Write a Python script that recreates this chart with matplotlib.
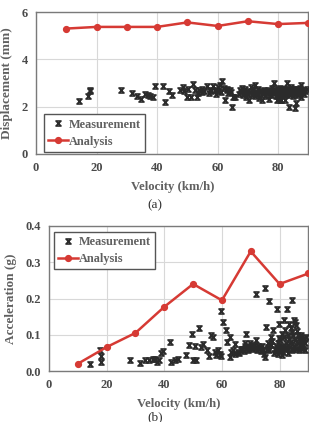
import matplotlib
matplotlib.use("Agg")
import matplotlib.pyplot as plt
from matplotlib.path import Path

plt.rcParams['font.family'] = ['Liberation Serif', 'DejaVu Serif']
plt.rcParams['font.weight'] = 'bold'

# ---------------- data ----------------
speeds = [10, 20, 30, 40, 50, 60, 70, 80, 90]
disp_analysis = [5.30, 5.37, 5.37, 5.37, 5.56, 5.41, 5.61, 5.49, 5.54]
acc_analysis = [0.020, 0.066, 0.105, 0.177, 0.240, 0.195, 0.330, 0.240, 0.269]

disp_meas = [
    (14.2, 2.24), (17.2, 2.46), (17.8, 2.72), (17.8, 2.65), (28.2, 2.69), (31.6, 2.58),
    (33.3, 2.46), (34.6, 2.32), (36.0, 2.55), (36.9, 2.50), (37.8, 2.44), (38.6, 2.41),
    (39.3, 2.86), (42.1, 2.89), (42.7, 2.20), (44.1, 2.65), (44.8, 2.50), (47.6, 2.72),
    (48.5, 2.83), (49.8, 2.41), (50.3, 2.75), (51.1, 2.41), (52.0, 2.97), (52.5, 2.69),
    (53.1, 2.41), (53.9, 2.72), (54.8, 2.75), (55.5, 2.65), (56.4, 2.86), (57.0, 2.58),
    (57.6, 2.72), (58.6, 2.86), (59.5, 2.55), (60.3, 2.83), (60.8, 2.93), (61.6, 3.07),
    (62.2, 2.79), (62.5, 2.27), (63.0, 2.72), (63.6, 2.58), (64.1, 2.69), (64.7, 1.99),
    (65.0, 2.41), (65.8, 2.41), (48.8, 2.68), (55.0, 2.62), (59.0, 2.70), (61.0, 2.60),
    (63.2, 2.75), (64.5, 2.62), (57.8, 2.66), (53.5, 2.58), (60.0, 2.66),
    (67.2, 2.55), (67.5, 2.72), (67.8, 2.62), (68.0, 2.80), (68.3, 2.48), (68.6, 2.66),
    (68.9, 2.58), (69.2, 2.75), (69.5, 2.40), (69.8, 2.68), (70.1, 2.55), (70.4, 2.27),
    (70.7, 2.62), (71.0, 2.85), (71.3, 2.50), (71.6, 2.70), (71.9, 2.58), (72.2, 2.44),
    (72.5, 2.93), (72.8, 2.64), (73.1, 2.52), (73.4, 2.76), (73.7, 2.35), (74.0, 2.60),
    (74.3, 2.68), (74.6, 2.30), (74.9, 2.55), (75.2, 2.72), (75.5, 2.62), (75.8, 2.45),
    (76.1, 2.66), (76.4, 2.58), (76.7, 2.70), (77.0, 2.34), (77.3, 2.60), (77.6, 2.50),
    (77.9, 2.78), (78.2, 2.64), (78.5, 3.02), (78.8, 2.56), (79.0, 2.70), (79.2, 2.45),
    (79.4, 2.62), (79.6, 2.30), (79.8, 2.74), (80.0, 2.58), (80.2, 2.66), (80.4, 2.50),
    (80.6, 2.80), (80.8, 2.62), (81.0, 2.30), (81.2, 2.70), (81.4, 2.56), (81.6, 2.64),
    (81.8, 2.48), (82.0, 2.76), (82.2, 2.60), (82.4, 2.68), (82.6, 2.52), (82.8, 2.98),
    (83.0, 2.66), (83.2, 2.58), (83.4, 2.72), (83.6, 1.99), (83.8, 2.62), (84.0, 2.50),
    (84.2, 2.84), (84.4, 2.66), (84.6, 2.56), (84.8, 2.70), (85.0, 2.44), (85.2, 2.62),
    (85.4, 2.76), (85.5, 1.94), (85.6, 2.52), (85.8, 2.68), (86.0, 2.15), (86.2, 2.60),
    (86.4, 2.72), (86.6, 2.48), (86.8, 2.64), (87.0, 2.56), (87.2, 2.80), (87.4, 2.40),
    (87.7, 2.93), (88.0, 2.62), (88.3, 2.70), (88.6, 2.55), (89.0, 2.66), (89.4, 2.74),
    (79.1, 2.66), (80.1, 2.72), (80.9, 2.55), (81.5, 2.74), (82.1, 2.62), (82.7, 2.70),
    (83.3, 2.64), (83.9, 2.74), (84.3, 2.58), (84.9, 2.62), (85.3, 2.70), (85.9, 2.58),
    (86.5, 2.66), (87.1, 2.72), (81.1, 2.64), (82.5, 2.56), (84.1, 2.68), (85.7, 2.76),
    (86.9, 2.58), (83.5, 2.56), (80.5, 2.28), (82.3, 2.30),
]

acc_meas = [
    (14.1, 0.018), (17.8, 0.057), (17.9, 0.041), (17.9, 0.025), (28.2, 0.029), (31.7, 0.023),
    (33.4, 0.029), (34.6, 0.029), (36.1, 0.032), (36.8, 0.032), (37.6, 0.025), (38.3, 0.029),
    (39.0, 0.051), (39.5, 0.054), (42.1, 0.080), (42.5, 0.025), (43.6, 0.029), (44.7, 0.032),
    (47.6, 0.045), (48.6, 0.071), (49.7, 0.103), (49.9, 0.029), (50.5, 0.068), (51.1, 0.031),
    (51.9, 0.120), (52.8, 0.065), (53.6, 0.074), (54.8, 0.057), (55.5, 0.041), (56.3, 0.099),
    (56.9, 0.094), (57.5, 0.053), (58.0, 0.043), (58.6, 0.057), (59.2, 0.048), (59.8, 0.041),
    (59.8, 0.166), (60.3, 0.135), (61.3, 0.112), (61.7, 0.080), (62.7, 0.094), (62.7, 0.039),
    (63.2, 0.053), (63.8, 0.057), (64.4, 0.074), (64.7, 0.048), (65.5, 0.053), (66.7, 0.062),
    (67.9, 0.076), (68.4, 0.101), (69.0, 0.066), (69.6, 0.076), (70.8, 0.066), (71.7, 0.085),
    (71.9, 0.212), (73.1, 0.066), (74.2, 0.057), (75.0, 0.228), (75.4, 0.122), (76.0, 0.076),
    (76.5, 0.192), (77.1, 0.094), (77.7, 0.112), (79.2, 0.171), (79.8, 0.129), (80.3, 0.066),
    (80.9, 0.103), (81.7, 0.140), (82.5, 0.171), (83.2, 0.131), (84.4, 0.197), (84.9, 0.140),
    (85.5, 0.135), (86.4, 0.099), (87.5, 0.094), (88.1, 0.085), (89.0, 0.057),
    (66.0, 0.050), (66.5, 0.058), (67.0, 0.062), (67.5, 0.055), (68.0, 0.068), (68.5, 0.060),
    (69.0, 0.058), (69.5, 0.064), (70.0, 0.070), (70.5, 0.060), (71.0, 0.072), (71.5, 0.064),
    (72.0, 0.058), (72.5, 0.068), (73.0, 0.062), (73.5, 0.055), (74.0, 0.070), (74.5, 0.048),
    (75.0, 0.040), (75.5, 0.062), (76.0, 0.066), (76.5, 0.058), (77.0, 0.072), (77.5, 0.082),
    (78.0, 0.050), (78.3, 0.060), (78.6, 0.068), (79.0, 0.055), (79.3, 0.076), (79.6, 0.048),
    (80.0, 0.062), (80.3, 0.085), (80.6, 0.058), (81.0, 0.070), (81.3, 0.052), (81.6, 0.094),
    (82.0, 0.064), (82.3, 0.078), (82.6, 0.060), (83.0, 0.072), (83.3, 0.088), (83.6, 0.066),
    (84.0, 0.080), (84.3, 0.058), (84.6, 0.100), (85.0, 0.070), (85.3, 0.085), (85.6, 0.062),
    (86.0, 0.110), (86.3, 0.076), (86.6, 0.092), (87.0, 0.068), (87.3, 0.082), (87.6, 0.100),
    (88.0, 0.072), (88.4, 0.090), (88.8, 0.078), (89.2, 0.095), (81.8, 0.112), (83.8, 0.120),
    (85.8, 0.128), (84.8, 0.062), (82.8, 0.050), (80.8, 0.045), (86.8, 0.058), (87.8, 0.062),
    (79.8, 0.090), (83.1, 0.098), (84.2, 0.108),
]

x_ticks = [0, 20, 40, 60, 80]
disp_ticks = [0, 2, 4, 6]
acc_ticks = [0.0, 0.1, 0.2, 0.3, 0.4]
acc_tick_labels = ["0.0", "0.1", "0.2", "0.3", "0.4"]

# ---------------- style ----------------
RED = "#d63a34"
MK = "#2b2b2b"
TXT = "#606060"
TICK = "#4a4a4a"
hourglass = Path([(-1, 1), (1, 1), (-1, -1), (1, -1), (-1, 1)],
                 [Path.MOVETO, Path.LINETO, Path.LINETO, Path.LINETO, Path.CLOSEPOLY])

fig = plt.figure(figsize=(3.09, 4.22), dpi=100)
ax1 = fig.add_axes([36 / 309, 1 - 154 / 422, 1 - 36 / 309 - 0.002, 142 / 422])
ax2 = fig.add_axes([49 / 309, 1 - 371 / 422, 1 - 49 / 309 - 0.002, 145 / 422])


def style(ax):
    ax.grid(True, color="#d8d8d8", linewidth=0.8)
    ax.set_axisbelow(True)
    for s in ax.spines.values():
        s.set_color("#7a7a7a")
        s.set_linewidth(1.0)
    ax.tick_params(length=0, labelsize=9, labelcolor=TICK, pad=6)
    for lab in ax.get_xticklabels() + ax.get_yticklabels():
        lab.set_fontweight("bold")


def draw(ax, meas, analysis, legend_loc, anchor):
    mx = [p[0] for p in meas]
    my = [p[1] for p in meas]
    ax.plot(mx, my, linestyle="none", marker=hourglass, markersize=3.6,
            markerfacecolor="none", markeredgecolor=MK, markeredgewidth=1.2,
            label="Measurement", zorder=3)
    ax.plot(speeds, analysis, color=RED, linewidth=1.8, marker="o", markersize=4.2,
            markerfacecolor=RED, markeredgecolor=RED, label="Analysis", zorder=4)
    leg = ax.legend(loc=legend_loc, bbox_to_anchor=anchor, fancybox=False,
                    edgecolor="#555555", framealpha=1, fontsize=8.8,
                    handlelength=1.6, handletextpad=0.05, borderpad=0.35,
                    labelspacing=0.4, borderaxespad=0)
    leg.get_frame().set_linewidth(1.0)
    for t in leg.get_texts():
        t.set_color(TXT)
        t.set_fontweight("bold")


draw(ax1, disp_meas, disp_analysis, "lower left", (0.03, 0.015))
ax1.set_xlim(0, 90)
ax1.set_ylim(0, 6)
ax1.set_xticks(x_ticks)
ax1.set_yticks(disp_ticks)
ax1.set_xlabel("Velocity (km/h)", fontsize=9.2, color=TXT, fontweight="bold", labelpad=5)
ax1.set_ylabel("Displacement (mm)", fontsize=9.5, color=TXT, fontweight="bold", labelpad=6)
style(ax1)

draw(ax2, acc_meas, acc_analysis, "upper left", (0.02, 0.96))
ax2.set_xlim(0, 90)
ax2.set_ylim(0, 0.4)
ax2.set_xticks(x_ticks)
ax2.set_yticks(acc_ticks)
ax2.set_yticklabels(acc_tick_labels)
ax2.set_xlabel("Velocity (km/h)", fontsize=9.2, color=TXT, fontweight="bold", labelpad=5)
ax2.set_ylabel("Acceleration (g)", fontsize=9.5, color=TXT, fontweight="bold", labelpad=6)
style(ax2)

fig.text(155 / 309, 1 - 205 / 422, "(a)", ha="center", va="center", fontsize=9.5,
         color="#333333", fontweight="normal")
fig.text(155 / 309, 1 - 417 / 422, "(b)", ha="center", va="center", fontsize=9.5,
         color="#333333", fontweight="normal")

fig.savefig("out.png", dpi=100)
